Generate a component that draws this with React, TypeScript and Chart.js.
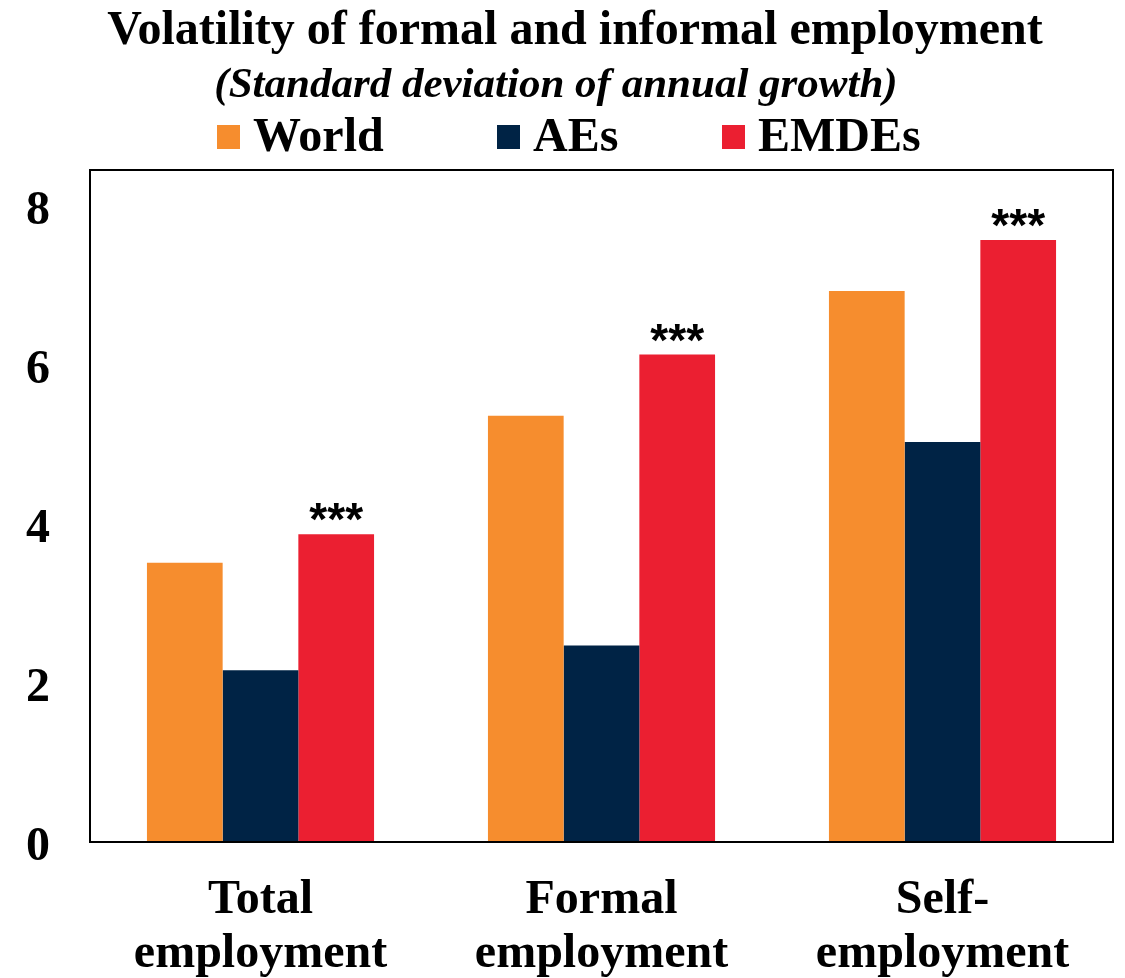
import React, { useEffect, useRef } from "react";
import { Chart, registerables } from "chart.js";

Chart.register(...registerables);

const categories: string[][] = [
  ["Total", "employment"],
  ["Formal", "employment"],
  ["Self-", "employment"],
];
const worldValues = [3.51, 5.36, 6.93];
const aesValues = [2.16, 2.47, 5.03];
const emdesValues = [3.87, 6.13, 7.57];
const emdesSignificance = ["***", "***", "***"];
const yTicks = [0, 2, 4, 6, 8];
const seriesNames = ["World", "AEs", "EMDEs"];
const seriesColors = ["#F68D2E", "#002345", "#EB1F31"];
const titleText = "Volatility of formal and informal employment";
const subtitleText = "(Standard deviation of annual growth)";

const SERIF = '"Liberation Serif", "Times New Roman", serif';
const SANS = '"Liberation Sans", Arial, sans-serif';

const framePlugin = {
  id: "frame",
  afterDatasetsDraw(chart: any) {
    const { ctx, chartArea } = chart;
    ctx.save();
    ctx.strokeStyle = "#000";
    ctx.lineWidth = 2;
    ctx.strokeRect(chartArea.left, chartArea.top, chartArea.right - chartArea.left, chartArea.bottom - chartArea.top);
    ctx.restore();
  },
};

const starsPlugin = {
  id: "stars",
  afterDatasetsDraw(chart: any) {
    const { ctx } = chart;
    const meta = chart.getDatasetMeta(2);
    ctx.save();
    ctx.fillStyle = "#000";
    ctx.font = `bold 46px ${SANS}`;
    ctx.textAlign = "center";
    ctx.textBaseline = "alphabetic";
    meta.data.forEach((bar: any, i: number) => {
      ctx.fillText(emdesSignificance[i], bar.x, bar.y + 1);
    });
    ctx.restore();
  },
};

const headerPlugin = {
  id: "header",
  afterDraw(chart: any) {
    const { ctx } = chart;
    ctx.save();
    ctx.fillStyle = "#000";
    ctx.textAlign = "center";
    ctx.textBaseline = "middle";
    ctx.font = `bold 48px ${SERIF}`;
    ctx.fillText(titleText, 575, 32);
    ctx.font = `italic bold 43px ${SERIF}`;
    ctx.fillText(subtitleText, 556, 86);

    const starts = [217, 497, 722];
    const y = 137;
    ctx.font = `bold 48px ${SERIF}`;
    ctx.textAlign = "left";
    chart.data.datasets.forEach((ds: any, i: number) => {
      ctx.fillStyle = ds.backgroundColor;
      ctx.fillRect(starts[i], y - 12, 23, 24);
      ctx.fillStyle = "#000";
      ctx.fillText(ds.label, starts[i] + 36, y + 2);
    });
    ctx.restore();
  },
};

export default function App() {
  const ref = useRef<HTMLCanvasElement>(null);
  useEffect(() => {
    if (!ref.current) return;
    const chart = new Chart(ref.current, {
      type: "bar",
      data: {
        labels: categories,
        datasets: [
          { label: seriesNames[0], data: worldValues, backgroundColor: seriesColors[0] },
          { label: seriesNames[1], data: aesValues, backgroundColor: seriesColors[1] },
          { label: seriesNames[2], data: emdesValues, backgroundColor: seriesColors[2] },
        ],
      },
      options: {
        animation: false,
        responsive: false,
        maintainAspectRatio: false,
        layout: { padding: { left: 0, right: 12, top: 170, bottom: 0 } },
        datasets: { bar: { categoryPercentage: 0.666, barPercentage: 1, borderWidth: 0 } },
        plugins: {
          legend: { display: false },
          tooltip: { enabled: false },
          title: { display: false },
        },
        scales: {
          x: {
            grid: { display: false, drawTicks: false },
            border: { display: false },
            afterFit(axis: any) {
              axis.height = 136;
            },
            ticks: {
              color: "#000",
              font: { family: SERIF, size: 48, weight: "bold", lineHeight: 1.12 },
              padding: 32,
              maxRotation: 0,
              autoSkip: false,
            },
          },
          y: {
            min: 0,
            max: 8.45,
            grid: { display: false, drawTicks: false },
            border: { display: false },
            afterBuildTicks(axis: any) {
              axis.ticks = yTicks.map((v) => ({ value: v }));
            },
            afterFit(axis: any) {
              axis.width = 90;
            },
            ticks: {
              color: "#000",
              font: { family: SERIF, size: 48, weight: "bold" },
              padding: 40,
              labelOffset: 6,
            },
          },
        },
      },
      plugins: [framePlugin, starsPlugin, headerPlugin],
    });
    return () => chart.destroy();
  }, []);
  return (
    <div style={{ position: "absolute", left: 0, top: 0, width: 1125, height: 978, background: "#fff" }}>
      <canvas ref={ref} width={1125} height={978} style={{ width: 1125, height: 978 }} />
    </div>
  );
}
